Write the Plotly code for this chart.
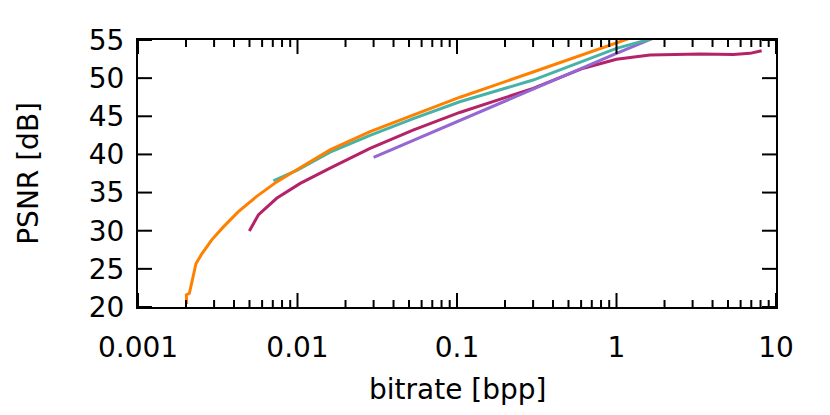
import math
import plotly.graph_objects as go

# ---- data ----
orange_x = [0.00202, 0.00201, 0.00210, 0.00231, 0.00250, 0.00290, 0.00343, 0.00426,
            0.00555, 0.0074, 0.0099, 0.016, 0.0285, 0.0532, 0.1045, 0.30, 1.2]
orange_y = [20.4, 21.6, 21.8, 25.7, 26.9, 28.8, 30.5, 32.5,
            34.5, 36.4, 38.0, 40.6, 43.0, 45.2, 47.5, 50.8, 55.2]

teal_x = [0.00705, 0.0099, 0.016, 0.0285, 0.0532, 0.104, 0.30, 1.0, 1.68]
teal_y = [36.55, 37.9, 40.3, 42.5, 44.7, 46.9, 49.75, 53.9, 55.2]

crimson_x = [0.00499, 0.00568, 0.0074, 0.0104, 0.016, 0.0285, 0.053, 0.104, 0.30,
             0.62, 1.0, 1.62, 3.34, 5.4, 6.87, 8.13]
crimson_y = [29.96, 32.06, 34.25, 36.2, 38.2, 40.8, 43.2, 45.5, 48.66,
             51.3, 52.47, 53.03, 53.16, 53.1, 53.25, 53.6]

purple_x = [0.03, 0.1, 0.3, 1.0, 1.68]
purple_y = [39.6, 44.3, 48.55, 53.25, 55.2]

x_tickvals = [0.001, 0.01, 0.1, 1, 10]
x_ticktext = ["0.001", "0.01", "0.1", "1", "10"]
y_tickvals = [20, 25, 30, 35, 40, 45, 50, 55]

X_RANGE = [-3, 1]      # log10 range
Y_RANGE = [20, 55]

series = [
    (crimson_x, crimson_y, "#b42368"),
    (purple_x, purple_y, "#9467d2"),
    (teal_x, teal_y, "#47b3a6"),
    (orange_x, orange_y, "#ff8000"),
]

fig = go.Figure()
for xs, ys, col in series:
    fig.add_trace(go.Scatter(x=xs, y=ys, mode="lines",
                             line=dict(color=col, width=3), showlegend=False))

font = dict(family="DejaVu Sans", size=28, color="black")

W, H = 822, 407
ML, MR, MT, MB = 130, 54, 32, 108
PW, PH = W - ML - MR, H - MT - MB
MAJ, MIN = 14, 7

# gnuplot-style inward tick marks on all four sides, derived from the tick arrays
shapes = []
tick_style = dict(color="black", width=2)

def xfrac(v):
    return (math.log10(v) - X_RANGE[0]) / (X_RANGE[1] - X_RANGE[0])

def yfrac(v):
    return (v - Y_RANGE[0]) / (Y_RANGE[1] - Y_RANGE[0])

minor_vals = [m * d for d in x_tickvals[:-1] for m in range(2, 10)]
for vals, ln in ((x_tickvals, MAJ), (minor_vals, MIN)):
    for v in vals:
        f = xfrac(v)
        shapes.append(dict(type="line", xref="paper", yref="paper", x0=f, x1=f,
                           y0=0, y1=ln / PH, line=tick_style))
        shapes.append(dict(type="line", xref="paper", yref="paper", x0=f, x1=f,
                           y0=1, y1=1 - ln / PH, line=tick_style))
for v in y_tickvals:
    f = yfrac(v)
    shapes.append(dict(type="line", xref="paper", yref="paper", x0=0, x1=MAJ / PW,
                       y0=f, y1=f, line=tick_style))
    shapes.append(dict(type="line", xref="paper", yref="paper", x0=1, x1=1 - MAJ / PW,
                       y0=f, y1=f, line=tick_style))

fig.update_layout(
    width=W, height=H,
    margin=dict(l=ML, r=MR, t=MT, b=MB),
    paper_bgcolor="white", plot_bgcolor="white",
    font=font,
    shapes=shapes,
    xaxis=dict(
        type="log", range=X_RANGE,
        tickmode="array", tickvals=x_tickvals, ticktext=x_ticktext,
        ticks="", showline=True, linewidth=2, linecolor="black", mirror=True,
        showgrid=False, zeroline=False, tickfont=font,
        ticklabelstandoff=14,
    ),
    yaxis=dict(
        range=Y_RANGE, tickmode="array", tickvals=y_tickvals,
        ticks="", showline=True, linewidth=2, linecolor="black", mirror=True,
        showgrid=False, zeroline=False, tickfont=font,
        ticklabelstandoff=6,
    ),
    annotations=[
        dict(text="bitrate [bpp]", xref="paper", yref="paper", x=0.5, y=-0.31,
             xanchor="center", yanchor="middle", showarrow=False, font=font),
        dict(text="PSNR [dB]", xref="paper", yref="paper", x=-0.172, y=0.5,
             xanchor="center", yanchor="middle", showarrow=False, font=font,
             textangle=-90),
    ],
)

fig.write_html("out.html")
